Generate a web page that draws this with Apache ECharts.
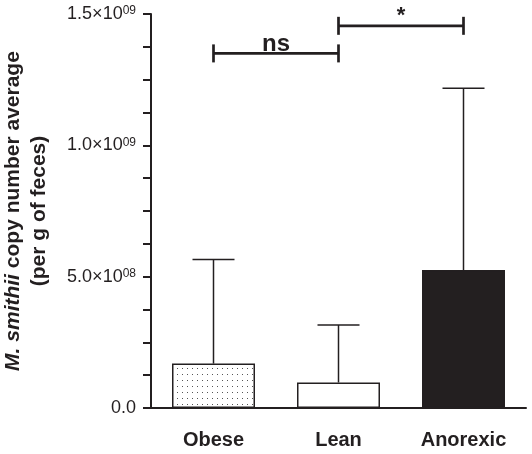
<!DOCTYPE html>
<html>
<head>
<meta charset="utf-8">
<script src="https://cdn.jsdelivr.net/npm/echarts@6/dist/echarts.min.js"></script>
<style>
  html, body { margin: 0; padding: 0; background: #fff; }
  #chart { width: 532px; height: 454px; }
</style>
</head>
<body>
<div id="chart"></div>
<script>
// ---- data ----
const categories = ['Obese', 'Lean', 'Anorexic'];
const meanValues = [1.69e8, 0.97e8, 5.25e8];
const upperValues = [5.65e8, 3.16e8, 1.217e9];

const yLabelValues = [0, 5e8, 1e9, 1.5e9];
const yLabelMantissa = ['0.0', '5.0', '1.0', '1.5'];
const yLabelExponent = ['', '08', '09', '09'];

const bracketFrom = [0, 1];
const bracketTo = [1, 2];
const bracketY = [1.35e9, 1.455e9];
const bracketText = ['ns', '*'];

// ---- styles ----
const ink = '#231f20';
const FONT = 'Liberation Sans, Arial, sans-serif';

function dotPattern() {
  const c = document.createElement('canvas');
  c.width = 5; c.height = 6;
  const ctx = c.getContext('2d');
  ctx.fillStyle = '#fff';
  ctx.fillRect(0, 0, 5, 6);
  ctx.fillStyle = '#555';
  ctx.fillRect(2, 2, 1, 1);
  return c;
}
const barColors = [
  { image: dotPattern(), repeat: 'repeat' },
  '#ffffff',
  ink
];

const chart = echarts.init(document.getElementById('chart'), null, { renderer: 'canvas' });

const option = {
  animation: false,
  backgroundColor: '#fff',
  grid: { left: 151, right: 6, top: 14, bottom: 46, containLabel: false, outerBoundsMode: 'none' },
  xAxis: {
    type: 'category',
    data: categories,
    boundaryGap: true,
    axisLine: { lineStyle: { color: ink, width: 2 } },
    axisTick: { alignWithLabel: true, length: 8, lineStyle: { color: ink, width: 2 } },
    axisLabel: {
      margin: 22, color: ink, fontSize: 20, fontWeight: 'bold', fontFamily: FONT
    },
    splitLine: { show: false }
  },
  yAxis: {
    type: 'value',
    min: 0,
    max: 1.5e9,
    interval: 1.25e8,
    axisLine: { show: true, lineStyle: { color: ink, width: 2 } },
    axisTick: { show: true, length: 8, lineStyle: { color: ink, width: 2 } },
    splitLine: { show: false },
    axisLabel: {
      margin: 15,
      color: ink,
      fontFamily: FONT,
      formatter: function (v) {
        for (let i = 0; i < yLabelValues.length; i++) {
          if (Math.abs(v - yLabelValues[i]) < 1e6) {
            if (!yLabelExponent[i]) return '{m|' + yLabelMantissa[i] + '}';
            return '{m|' + yLabelMantissa[i] + '×10}{s|' + yLabelExponent[i] + '}';
          }
        }
        return '';
      },
      rich: {
        m: { fontSize: 18, color: ink, fontFamily: FONT, lineHeight: 18 },
        s: { fontSize: 12, color: ink, fontFamily: FONT, verticalAlign: 'top', lineHeight: 12 }
      }
    },
    name: '{i|M. smithii} copy number average\n(per g of feces)',
    nameLocation: 'middle',
    nameRotate: 90,
    nameGap: 99,
    nameTextStyle: {
      color: ink,
      fontSize: 21,
      fontWeight: 'bold',
      lineHeight: 26,
      align: 'center',
      fontFamily: FONT,
      rich: {
        i: { fontSize: 21, fontWeight: 'bold', fontStyle: 'italic', color: ink, lineHeight: 26, fontFamily: FONT }
      }
    }
  },
  series: [
    {
      type: 'bar',
      barWidth: 83,
      data: meanValues.map((v, i) => ({
        value: v,
        itemStyle: { color: barColors[i] }
      })),
      itemStyle: { borderColor: ink, borderWidth: 1.5 },
      z: 2
    },
    {
      type: 'custom',
      z: 3,
      data: categories.map((c, i) => [i, meanValues[i], upperValues[i]]),
      renderItem: function (params, api) {
        const top = api.coord([api.value(0), api.value(2)]);
        const base = api.coord([api.value(0), api.value(1)]);
        const half = 21;
        const style = { stroke: ink, lineWidth: 1.5 };
        return {
          type: 'group',
          children: [
            { type: 'line', shape: { x1: top[0], y1: base[1], x2: top[0], y2: top[1] }, style: style },
            { type: 'line', shape: { x1: top[0] - half, y1: top[1], x2: top[0] + half, y2: top[1] }, style: style }
          ]
        };
      }
    },
    {
      type: 'custom',
      z: 4,
      clip: false,
      data: bracketFrom.map((f, i) => [f, bracketTo[i], bracketY[i], i]),
      renderItem: function (params, api) {
        const i = api.value(3);
        const a = api.coord([api.value(0), api.value(2)]);
        const b = api.coord([api.value(1), api.value(2)]);
        const style = { stroke: ink, lineWidth: 2.7 };
        const capH = 9;
        const isStar = bracketText[i] === '*';
        return {
          type: 'group',
          children: [
            { type: 'line', shape: { x1: a[0], y1: a[1], x2: b[0], y2: b[1] }, style: style },
            { type: 'line', shape: { x1: a[0], y1: a[1] - capH, x2: a[0], y2: a[1] + capH }, style: style },
            { type: 'line', shape: { x1: b[0], y1: b[1] - capH, x2: b[0], y2: b[1] + capH }, style: style },
            {
              type: 'text',
              x: (a[0] + b[0]) / 2,
              y: isStar ? a[1] - 21 : a[1] + 3,
              style: {
                text: bracketText[i],
                fill: ink,
                font: 'bold ' + (isStar ? 22 : 24) + 'px "Liberation Sans", Arial, sans-serif',
                align: 'center',
                verticalAlign: isStar ? 'top' : 'bottom'
              }
            }
          ]
        };
      }
    }
  ]
};
chart.setOption(option);
</script>
</body>
</html>
